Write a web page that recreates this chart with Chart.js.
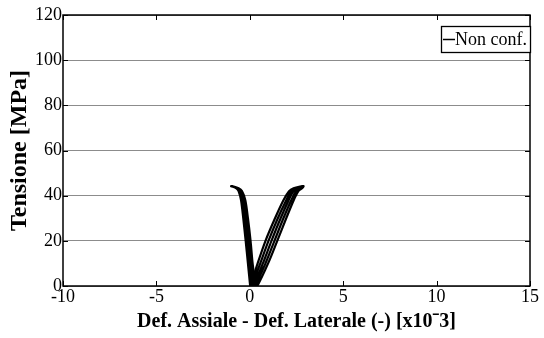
<!DOCTYPE html>
<html><head><meta charset="utf-8">
<script src="https://cdn.jsdelivr.net/npm/chart.js@4/dist/chart.umd.min.js"></script>
<style>html,body{margin:0;padding:0;background:#fff}#wrap{width:544px;height:338px}</style>
</head><body><div id="wrap"><canvas id="c" width="544" height="338"></canvas></div>
<script>
const seriesLabel = "Non conf.";
const xTicks = [-10,-5,0,5,10,15];
const yTicks = [0,20,40,60,80,100,120];
const stressLevels = [0,10,20,30,38,42,43.3,44.2];
// axial-strain branch, successive cycles (x10^-3)
const axial1 = [0.04,0.42,0.84,1.35,1.80,2.10,2.34,2.80];
const axial2 = [0.12,0.56,1.00,1.50,1.95,2.22,2.46,2.83];
const axial3 = [0.20,0.70,1.16,1.65,2.08,2.34,2.58,2.85];
const axial4 = [0.30,0.84,1.32,1.80,2.22,2.48,2.70,2.87];
const axial5 = [0.40,0.98,1.47,1.95,2.35,2.60,2.80,2.88];
// lateral-strain branch, successive cycles (x10^-3)
const lateral1 = [0.02,-0.10,-0.22,-0.35,-0.47,-0.60,-0.72,-1.00];
const lateral2 = [0.08,-0.03,-0.15,-0.28,-0.41,-0.55,-0.68,-0.98];
const lateral3 = [0.15,0.03,-0.08,-0.22,-0.35,-0.50,-0.65,-0.97];
const lateral4 = [0.22,0.09,-0.02,-0.16,-0.29,-0.46,-0.62,-0.96];
const lateral5 = [0.30,0.15,0.04,-0.10,-0.24,-0.42,-0.60,-0.95];

const up = xs => xs.map((x, i) => ({x, y: stressLevels[i]}));
const down = xs => up(xs).reverse();
const axialPts = [...up(axial1), ...down(axial3), ...up(axial2), ...down(axial5), ...up(axial4), ...down(axial4)];
const lateralPts = [...up(lateral1), ...down(lateral3), ...up(lateral2), ...down(lateral5), ...up(lateral4), ...down(lateral4)];
const serif = "'Liberation Serif','Times New Roman',serif";

const framePlugin = {
  id: 'frame',
  afterDraw(chart) {
    const {ctx, chartArea: a, scales: {x, y}} = chart;
    ctx.save();
    ctx.strokeStyle = '#000'; ctx.lineWidth = 1.5;
    ctx.strokeRect(a.left, a.top, a.right - a.left, a.bottom - a.top);
    ctx.lineWidth = 1;
    ctx.beginPath();
    xTicks.forEach(v => { const px = Math.round(x.getPixelForValue(v)) + 0.5;
      ctx.moveTo(px, a.bottom); ctx.lineTo(px, a.bottom - 5);
      ctx.moveTo(px, a.top); ctx.lineTo(px, a.top + 5); });
    yTicks.forEach(v => { const py = Math.round(y.getPixelForValue(v)) + 0.5;
      ctx.moveTo(a.left, py); ctx.lineTo(a.left + 5, py);
      ctx.moveTo(a.right, py); ctx.lineTo(a.right - 5, py); });
    ctx.stroke();
    // legend box
    const bx = 441, by = 26, bw = 89, bh = 26;
    ctx.fillStyle = '#fff';
    ctx.fillRect(bx, by, bw, bh);
    ctx.lineWidth = 1.3;
    ctx.strokeRect(bx + 0.5, by + 0.5, bw, bh);
    ctx.beginPath(); ctx.lineWidth = 1.5;
    ctx.moveTo(bx + 2, by + 13.5); ctx.lineTo(bx + 14, by + 13.5); ctx.stroke();
    ctx.fillStyle = '#000'; ctx.font = '18px ' + serif;
    ctx.textBaseline = 'middle'; ctx.textAlign = 'left';
    ctx.fillText(seriesLabel, bx + 14, by + 14);
    ctx.restore();
  }
};

new Chart(document.getElementById('c'), {
  type: 'scatter',
  data: { datasets: [
    { label: seriesLabel, data: axialPts, showLine: true, borderColor: '#000', borderWidth: 2.2, pointRadius: 0, tension: 0.3, fill: false },
    { label: seriesLabel, data: lateralPts, showLine: true, borderColor: '#000', borderWidth: 2.2, pointRadius: 0, tension: 0.3, fill: false }
  ]},
  options: {
    responsive: false, animation: false,
    layout: { padding: { top: 15, right: 14, left: 0, bottom: 0 } },
    plugins: { legend: { display: false }, tooltip: { enabled: false } },
    scales: {
      x: { type: 'linear', min: -10, max: 15,
        afterBuildTicks: s => { s.ticks = xTicks.map(v => ({value: v})); },
        afterFit: s => { s.height = 52; },
        grid: { display: false, drawTicks: false }, border: { display: false },
        ticks: { color: '#000', font: { family: serif, size: 18 }, padding: 0, maxRotation: 0 },
        title: { display: true, text: 'Def. Assiale - Def. Laterale (-) [x10ˉ3]', color: '#000', font: { family: serif, size: 20, weight: 'bold' }, padding: { top: 0, bottom: 4 } } },
      y: { type: 'linear', min: 0, max: 120,
        afterBuildTicks: s => { s.ticks = yTicks.map(v => ({value: v})); },
        afterFit: s => { s.width = 63; },
        grid: { color: '#8c8c8c', lineWidth: 1, drawTicks: false }, border: { display: false },
        ticks: { color: '#000', font: { family: serif, size: 18 }, padding: 1 },
        title: { display: true, text: 'Tensione [MPa]', color: '#000', font: { family: serif, size: 24, weight: 'bold' }, padding: { top: 5, bottom: 0 } } }
    }
  },
  plugins: [framePlugin]
});
</script></body></html>
